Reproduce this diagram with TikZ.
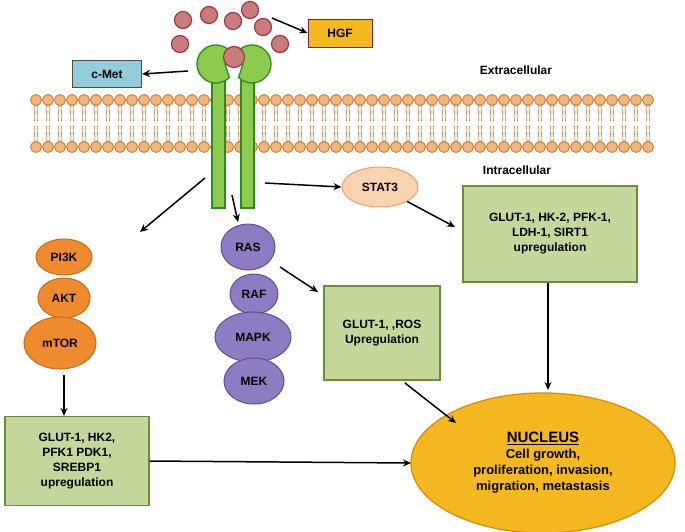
\documentclass[tikz,border=0pt]{standalone}
\usepackage{fontspec}
\setmainfont{Liberation Sans}
\usetikzlibrary{arrows.meta,calc,shapes.geometric}
\definecolor{ball}{HTML}{C97B7E}
\definecolor{balle}{HTML}{9E3A3F}
\definecolor{gold}{HTML}{F5B820}
\definecolor{golde}{HTML}{D98F00}
\definecolor{cmet}{HTML}{92CDDC}
\definecolor{rec}{HTML}{8CCB4E}
\definecolor{rece}{HTML}{2E8B1E}
\definecolor{head}{HTML}{F3B57A}
\definecolor{heade}{HTML}{C8742E}
\definecolor{stat}{HTML}{FAD3B0}
\definecolor{state}{HTML}{E8A070}
\definecolor{org}{HTML}{F08A2E}
\definecolor{orge}{HTML}{C96A14}
\definecolor{purp}{HTML}{8E7CC3}
\definecolor{purpe}{HTML}{5E4E94}
\definecolor{gbox}{HTML}{C4D89B}
\definecolor{gboxe}{HTML}{6E8B3D}
\begin{document}
\begin{tikzpicture}[x=1pt,y=-1pt,
  txt/.style={font=\fontsize{12}{15}\selectfont\bfseries,align=center},
  arr/.style={-{Stealth[length=8pt,width=7pt]},line width=1.5pt,black},
  hball/.style={circle,draw=balle,fill=ball,line width=1.2pt,minimum size=17pt,inner sep=0pt},
  box/.style={draw=gboxe,fill=gbox,line width=1.2pt,txt,inner sep=2pt},
  oell/.style={ellipse,draw=orge,fill=org,line width=1pt,txt,inner sep=0pt},
  pell/.style={ellipse,draw=purpe,fill=purp,line width=1pt,txt,inner sep=0pt}]
\useasboundingbox (0,0) rectangle (685,531);
% membrane
\foreach \x in {36,48,...,650}{
  \draw[heade,line width=0.6pt] (\x-1.5,104) .. controls (\x-3,110) and (\x,114) .. (\x-1.5,121);
  \draw[heade,line width=0.6pt] (\x+1.5,104) .. controls (\x,110) and (\x+3,114) .. (\x+1.5,121);
  \draw[heade,line width=0.6pt] (\x-1.5,126) .. controls (\x-3,132) and (\x,136) .. (\x-1.5,143);
  \draw[heade,line width=0.6pt] (\x+1.5,126) .. controls (\x,132) and (\x+3,136) .. (\x+1.5,143);
  \filldraw[draw=heade,fill=head,line width=0.8pt] (\x,100) circle (5.5);
  \filldraw[draw=heade,fill=head,line width=0.8pt] (\x,147) circle (5.5);
}
% HGF balls
\foreach \p/\n in {{(183,20)}/b1,{(209,15)}/b2,{(233,21)}/b3,{(250,10)}/b4,{(263,27)}/b5,{(180,44)}/b6,{(280,44)}/b7}
  \node[hball] (\n) at \p {};
% receptor stalks
\filldraw[draw=rece,fill=rec,line width=1.2pt] (212,80) rectangle (225,208);
\filldraw[draw=rece,fill=rec,line width=1.2pt] (241,80) rectangle (254,208);
% receptor heads
\filldraw[draw=rece,fill=rec,line width=1.3pt] ($(216,64)+(45:19)$) arc[start angle=45,end angle=315,radius=19] -- (225,64) -- cycle;
\filldraw[draw=rece,fill=rec,line width=1.3pt] ($(252,64)+(135:19)$) arc[start angle=135,end angle=-135,radius=19] -- (243,64) -- cycle;
\node[hball,minimum size=21pt] (bc) at (234,57) {};
% HGF
\node[draw=balle!70!black,fill=gold,line width=1pt,txt,minimum width=64pt,minimum height=28pt] (hgf) at (340,33) {HGF};
\draw[arr] (272,18) -- (hgf.west);
% c-Met
\node[draw=black!70,fill=cmet,line width=1pt,txt,minimum width=69pt,minimum height=27pt] (cmet) at (107,74) {c-Met};
\coordinate (cs) at (188,71);
\draw[arr] (cs) -- (cmet.east);
% labels
\node[txt] (ex) at (516,70) {Extracellular};
\node[txt] (in) at (517,170) {Intracellular};
% STAT3
\node[ellipse,draw=state,fill=stat,line width=1pt,txt,minimum width=76pt,minimum height=40pt,inner sep=0pt] (stat) at (380,187) {STAT3};
\coordinate (rs) at (265,183);
\draw[arr] (rs) -- (stat.west);
\node[box,minimum width=174pt,minimum height=96pt] (b3) at (550,234) {GLUT-1, HK-2, PFK-1,\\LDH-1, SIRT1\\upregulation};
\draw[arr] (stat.south east) -- (455,227);
% PI3K branch
\node[oell,minimum width=56pt,minimum height=36pt] (pi3k) at (64,257) {PI3K};
\node[oell,minimum width=52pt,minimum height=40pt] (akt) at (64,298) {AKT};
\node[oell,minimum width=72pt,minimum height=52pt] (mtor) at (60,343) {mTOR};
\coordinate (r1) at (205,178);
\draw[arr] (r1) -- (140,232);
\node[box,minimum width=144pt,minimum height=89pt] (b1) at (77,461) {GLUT-1, HK2,\\PFK1 PDK1,\\SREBP1\\upregulation};
\draw[arr] (64,375) -- (b1.north-|64,0);
% RAS branch
\coordinate (r2) at (232,195);
\draw[arr] (r2) -- (238,222);
\node[pell,minimum width=54pt,minimum height=46pt] (ras) at (248,247) {RAS};
\node[pell,minimum width=48pt,minimum height=40pt] (raf) at (254,294) {RAF};
\node[pell,minimum width=76pt,minimum height=50pt] (mapk) at (253,337) {MAPK};
\node[pell,minimum width=60pt,minimum height=46pt] (mek) at (254,381) {MEK};
\node[box,minimum width=116pt,minimum height=94pt] (b2) at (382,333) {GLUT-1, ,ROS\\Upregulation};
\draw[arr] (280,267) -- (318,292);
% nucleus
\node[ellipse,draw=golde,fill=gold,line width=1.3pt,minimum width=264pt,minimum height=140pt,inner sep=0pt,
  font=\fontsize{13}{16}\selectfont\bfseries,align=center] (nuc) at (543,463)
  {{\fontsize{15}{18}\selectfont\underline{NUCLEUS}}\\Cell growth,\\proliferation, invasion,\\migration, metastasis};
\draw[arr] (b3.south-|548,0) -- (548,390);
\draw[arr] (405,383) -- (456,423);
\draw[arr] (b1.east) -- (411,463);
\end{tikzpicture}
\end{document}
